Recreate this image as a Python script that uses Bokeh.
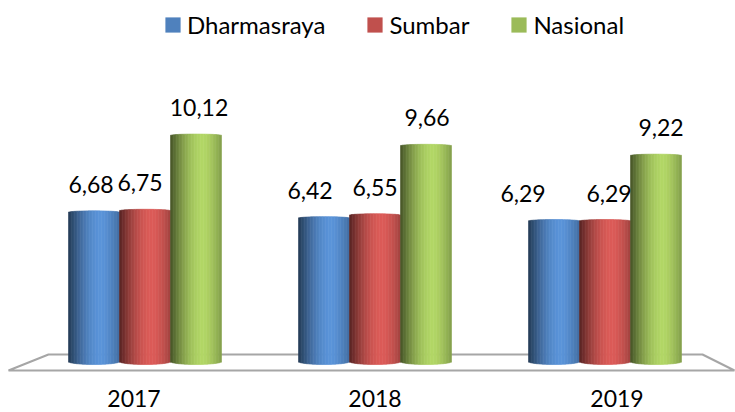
import numpy as np
from bokeh.plotting import figure
from bokeh.models import ColumnDataSource, Range1d, Legend, LegendItem
from bokeh.core.properties import value
from bokeh.embed import file_html
from bokeh.resources import INLINE

# ---------------- data ----------------
categories = ["2017", "2018", "2019"]
series_names = ["Dharmasraya", "Sumbar", "Nasional"]
dharmasraya = [6.68, 6.42, 6.29]
sumbar = [6.75, 6.55, 6.29]
nasional = [10.12, 9.66, 9.22]
series_values = [dharmasraya, sumbar, nasional]
series_colors = ["#4F81BD", "#C0504D", "#9BBB59"]

# ---------------- layout / style ----------------
W, H = 735, 412
PX_X = 230.0          # pixels per category step
G0 = 144.5            # pixel x of first category centre
ZERO_PX = 361.0       # pixel y (from top) of value 0
PX_Y = 22.33          # pixels per unit value
FONT = "Lato"
BAR_W = 51.0 / PX_X
N_STRIPS = 34
E_BOT = 3.0 / PX_Y    # bottom ellipse half-height (units)
E_TOP = 1.5 / PX_Y
label_dx_px = [[-3, -14, -31], [-5, 0, 4], [3, 1, 5]]
year_dx_px = [-11, 0, 12]

x0 = -G0 / PX_X
x1 = x0 + W / PX_X
y_top = ZERO_PX / PX_Y
y_bot = -(H - ZERO_PX) / PX_Y

p = figure(width=W, height=H, output_backend="svg", toolbar_location=None,
           x_range=Range1d(x0, x1), y_range=Range1d(y_bot, y_top),
           min_border=0, outline_line_color=None)
p.xaxis.visible = False
p.yaxis.visible = False
p.grid.visible = False
p.background_fill_color = "white"
p.border_fill_color = "white"

# ---------------- floor ----------------
def px_to_x(px):
    return x0 + px / PX_X

def py_to_y(py):
    return (ZERO_PX - py) / PX_Y

floor_x = [px_to_x(8), px_to_x(48), px_to_x(702), px_to_x(734)]
floor_y = [py_to_y(370), py_to_y(354), py_to_y(354), py_to_y(370)]
p.patch(floor_x, floor_y, fill_color="white", line_color="#a6a6a6", line_width=2)

# ---------------- bars (cylinders via shaded strips) ----------------
def hex_to_rgb(h):
    h = h.lstrip("#")
    return np.array([int(h[i:i + 2], 16) for i in (0, 2, 4)], dtype=float)

def shade(rgb, t):
    if t < 0.65:
        k = 0.45 + 0.70 * np.sin(t / 0.65 * np.pi / 2)
    else:
        k = 1.15 - 0.30 * ((t - 0.65) / 0.35) ** 1.5
    c = np.clip(rgb * k, 0, 255).astype(int)
    return "#%02x%02x%02x" % tuple(c)

offsets = [-1, 0, 1]
strips = dict(left=[], right=[], bottom=[], top=[], color=[])
lab = dict(x=[], y=[], text=[], dx=[])
for s, (vals, col) in enumerate(zip(series_values, series_colors)):
    rgb = hex_to_rgb(col)
    for i, v in enumerate(vals):
        xc = i + offsets[s] * BAR_W
        xl = xc - BAR_W / 2
        for k in range(N_STRIPS):
            t0 = k / N_STRIPS
            t1 = (k + 1) / N_STRIPS
            tc = (t0 + t1) / 2
            u = 2 * tc - 1
            curve = np.sqrt(max(0.0, 1 - u * u))
            strips["left"].append(xl + t0 * BAR_W)
            strips["right"].append(xl + t1 * BAR_W)
            strips["bottom"].append(-E_BOT * curve)
            strips["top"].append(v + E_TOP * curve)
            strips["color"].append(shade(rgb, tc))
        lab["x"].append(xc)
        lab["y"].append(v)
        lab["text"].append(("%.2f" % v).replace(".", ","))
        lab["dx"].append(label_dx_px[s][i])

p.quad(left="left", right="right", bottom="bottom", top="top",
       fill_color="color", line_color="color", line_width=0.6,
       source=ColumnDataSource(strips))

# value labels
p.text(x="x", y="y", text="text", x_offset="dx", y_offset=-28,
       source=ColumnDataSource(lab), text_font=value(FONT), text_font_size="23px",
       text_align="center", text_baseline="middle", text_color="#000000")

# category labels
cat_src = ColumnDataSource(dict(x=list(range(len(categories))),
                                y=[py_to_y(398)] * len(categories),
                                text=categories, dx=year_dx_px))
p.text(x="x", y="y", text="text", x_offset="dx",
       source=cat_src, text_font=value(FONT), text_font_size="23px",
       text_align="center", text_baseline="middle", text_color="#000000")

# ---------------- legend ----------------
items = []
for name, col in zip(series_names, series_colors):
    r = p.quad(left=[np.nan], right=[np.nan], bottom=[np.nan], top=[np.nan],
               fill_color=col, line_color=None)
    items.append(LegendItem(label=name, renderers=[r]))
legend = Legend(items=items, orientation="horizontal", location=(163, 373),
                glyph_width=19, glyph_height=19, label_standoff=5, spacing=40,
                padding=0, margin=0, border_line_alpha=0, background_fill_alpha=0,
                label_text_font=FONT, label_text_font_size="24px",
                label_text_color="#000000")
p.add_layout(legend, "center")

open("out.html", "w").write(file_html(p, INLINE))
